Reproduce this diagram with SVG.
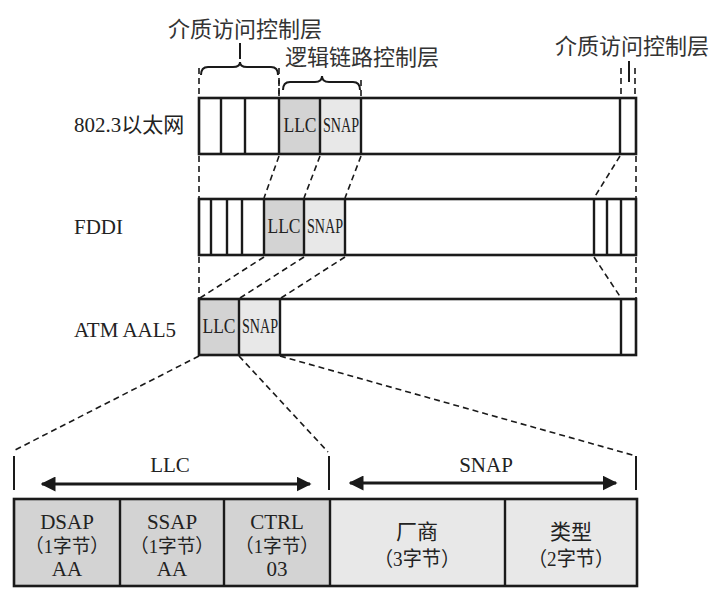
<svg xmlns="http://www.w3.org/2000/svg" width="724" height="601" viewBox="0 0 724 601">
<style>
.frame{fill:none;stroke:#1a1a1a;stroke-width:2.6}
.div{stroke:#1a1a1a;stroke-width:2.4}
.llc{fill:#d3d3d3}
.snap{fill:#e8e8e8}
.dash{fill:none;stroke:#1a1a1a;stroke-width:1.6;stroke-dasharray:6 4}
.brace{fill:none;stroke:#1a1a1a;stroke-width:2}
.t{font-family:"Liberation Serif","Noto Sans CJK SC",serif;fill:#222}
.cjk{font-family:"Liberation Serif","Noto Sans CJK SC",serif;fill:#333}
.arrow{stroke:#1a1a1a;stroke-width:3}
</style>
<defs>
<marker id="ah" viewBox="0 0 10 10" refX="9" refY="5" markerWidth="5" markerHeight="5" orient="auto-start-reverse" markerUnits="strokeWidth">
<path d="M0,0 L10,5 L0,10 Z" fill="#1a1a1a"/>
</marker>
</defs>
<rect width="724" height="601" fill="#fff"/>

<g id="label-mac-left">
<text class="cjk" x="245" y="37" font-size="22" text-anchor="middle">介质访问控制层</text>
<line class="brace" x1="240" y1="43" x2="240" y2="59"/>
<path class="brace" d="M201,75 Q201,67 208,67 L233,67 Q240,67 240,62 Q240,67 247,67 L271,67 Q278,67 278,75"/>
<line class="dash" x1="199" y1="68" x2="199" y2="97"/>
<line class="dash" x1="279" y1="68" x2="279" y2="97"/>
</g>
<g id="label-llc-layer">
<text class="cjk" x="362" y="65" font-size="22" text-anchor="middle">逻辑链路控制层</text>
<path class="brace" d="M283,90 Q283,82 290,82 L315,82 Q322,82 322,76 Q322,82 329,82 L353,82 Q360,82 360,90"/>
<line class="dash" x1="279" y1="80" x2="279" y2="97"/>
<line class="dash" x1="361" y1="80" x2="361" y2="97"/>
</g>
<g id="label-mac-right">
<text class="cjk" x="632" y="54" font-size="22" text-anchor="middle">介质访问控制层</text>
<line class="brace" x1="629" y1="61" x2="629" y2="82"/>
<line class="dash" x1="621" y1="68" x2="621" y2="97"/>
<line class="dash" x1="635" y1="68" x2="635" y2="97"/>
</g>

<g id="row-8023">
<text class="t" x="74" y="132" font-size="21">802.3以太网</text>
<rect class="llc" x="279" y="98" width="41" height="56"/>
<rect class="snap" x="320" y="98" width="41" height="56"/>
<rect class="frame" x="199" y="98" width="437" height="56"/>
<line class="div" x1="221" y1="98" x2="221" y2="154"/>
<line class="div" x1="245" y1="98" x2="245" y2="154"/>
<line class="div" x1="279" y1="98" x2="279" y2="154"/>
<line class="div" x1="320" y1="98" x2="320" y2="154"/>
<line class="div" x1="361" y1="98" x2="361" y2="154"/>
<line class="div" x1="620" y1="98" x2="620" y2="154"/>
<text class="t" x="300" y="132" font-size="22" text-anchor="middle" textLength="33" lengthAdjust="spacingAndGlyphs">LLC</text>
<text class="t" x="341" y="132" font-size="22" text-anchor="middle" textLength="36" lengthAdjust="spacingAndGlyphs">SNAP</text>
</g>

<g id="row-fddi">
<text class="t" x="74" y="234" font-size="21">FDDI</text>
<rect class="llc" x="264" y="199" width="40" height="56"/>
<rect class="snap" x="304" y="199" width="41" height="56"/>
<rect class="frame" x="199" y="199" width="437" height="56"/>
<line class="div" x1="211" y1="199" x2="211" y2="255"/>
<line class="div" x1="227" y1="199" x2="227" y2="255"/>
<line class="div" x1="242" y1="199" x2="242" y2="255"/>
<line class="div" x1="264" y1="199" x2="264" y2="255"/>
<line class="div" x1="304" y1="199" x2="304" y2="255"/>
<line class="div" x1="345" y1="199" x2="345" y2="255"/>
<line class="div" x1="594" y1="199" x2="594" y2="255"/>
<line class="div" x1="607" y1="199" x2="607" y2="255"/>
<line class="div" x1="621" y1="199" x2="621" y2="255"/>
<text class="t" x="284" y="233" font-size="22" text-anchor="middle" textLength="33" lengthAdjust="spacingAndGlyphs">LLC</text>
<text class="t" x="325" y="233" font-size="22" text-anchor="middle" textLength="36" lengthAdjust="spacingAndGlyphs">SNAP</text>
</g>

<g id="row-atm">
<text class="t" x="74" y="337" font-size="21">ATM AAL5</text>
<rect class="llc" x="199" y="299" width="40" height="56"/>
<rect class="snap" x="239" y="299" width="41" height="56"/>
<rect class="frame" x="199" y="299" width="437" height="56"/>
<line class="div" x1="239" y1="299" x2="239" y2="355"/>
<line class="div" x1="280" y1="299" x2="280" y2="355"/>
<line class="div" x1="621" y1="299" x2="621" y2="355"/>
<text class="t" x="219" y="333" font-size="22" text-anchor="middle" textLength="33" lengthAdjust="spacingAndGlyphs">LLC</text>
<text class="t" x="260" y="333" font-size="22" text-anchor="middle" textLength="36" lengthAdjust="spacingAndGlyphs">SNAP</text>
</g>

<g id="connectors">
<line class="dash" x1="199" y1="156" x2="199" y2="198"/>
<line class="dash" x1="279" y1="156" x2="264" y2="198"/>
<line class="dash" x1="320" y1="156" x2="304" y2="198"/>
<line class="dash" x1="361" y1="156" x2="345" y2="198"/>
<line class="dash" x1="620" y1="156" x2="594" y2="198"/>
<line class="dash" x1="636" y1="156" x2="636" y2="198"/>
<line class="dash" x1="199" y1="257" x2="199" y2="298"/>
<line class="dash" x1="264" y1="257" x2="200" y2="298"/>
<line class="dash" x1="304" y1="257" x2="240" y2="298"/>
<line class="dash" x1="345" y1="257" x2="281" y2="298"/>
<line class="dash" x1="594" y1="257" x2="621" y2="298"/>
<line class="dash" x1="636" y1="257" x2="636" y2="298"/>
<line class="dash" x1="199" y1="356" x2="15" y2="450"/>
<line class="dash" x1="239" y1="356" x2="328" y2="452"/>
<line class="dash" x1="280" y1="356" x2="636" y2="456"/>
</g>

<g id="llc-span">
<line class="brace" x1="14" y1="456" x2="14" y2="490"/>
<line class="brace" x1="329" y1="456" x2="329" y2="490"/>
<text class="t" x="170" y="472" font-size="21" text-anchor="middle">LLC</text>
<line class="arrow" x1="42" y1="484" x2="310" y2="484" marker-start="url(#ah)" marker-end="url(#ah)"/>
</g>
<g id="snap-span">
<line class="brace" x1="636" y1="456" x2="636" y2="490"/>
<text class="t" x="486" y="472" font-size="21" text-anchor="middle">SNAP</text>
<line class="arrow" x1="350" y1="483" x2="616" y2="483" marker-start="url(#ah)" marker-end="url(#ah)"/>
</g>

<g id="field-dsap">
<rect class="llc" x="14" y="499" width="106" height="87"/>
<text class="t" x="67" y="529" font-size="21" text-anchor="middle">DSAP</text>
<text class="t" x="67" y="553" font-size="19" text-anchor="middle" textLength="84" lengthAdjust="spacingAndGlyphs">（1字节）</text>
<text class="t" x="67" y="576" font-size="21" text-anchor="middle">AA</text>
</g>
<g id="field-ssap">
<rect class="llc" x="120" y="499" width="104" height="87"/>
<text class="t" x="172" y="529" font-size="21" text-anchor="middle">SSAP</text>
<text class="t" x="172" y="553" font-size="19" text-anchor="middle" textLength="84" lengthAdjust="spacingAndGlyphs">（1字节）</text>
<text class="t" x="172" y="576" font-size="21" text-anchor="middle">AA</text>
</g>
<g id="field-ctrl">
<rect class="llc" x="224" y="499" width="106" height="87"/>
<text class="t" x="277" y="529" font-size="21" text-anchor="middle">CTRL</text>
<text class="t" x="277" y="553" font-size="19" text-anchor="middle" textLength="84" lengthAdjust="spacingAndGlyphs">（1字节）</text>
<text class="t" x="277" y="576" font-size="21" text-anchor="middle">03</text>
</g>
<g id="field-vendor">
<rect class="snap" x="330" y="499" width="175" height="87"/>
<text class="t" x="417" y="539" font-size="21" text-anchor="middle">厂商</text>
<text class="t" x="417" y="566" font-size="20" text-anchor="middle" textLength="86" lengthAdjust="spacingAndGlyphs">（3字节）</text>
</g>
<g id="field-type">
<rect class="snap" x="505" y="499" width="132" height="87"/>
<text class="t" x="571" y="539" font-size="21" text-anchor="middle">类型</text>
<text class="t" x="571" y="566" font-size="20" text-anchor="middle" textLength="86" lengthAdjust="spacingAndGlyphs">（2字节）</text>
</g>
<g id="bottom-frame">
<rect class="frame" x="14" y="499" width="623" height="87"/>
<line class="div" x1="120" y1="499" x2="120" y2="586"/>
<line class="div" x1="224" y1="499" x2="224" y2="586"/>
<line class="div" x1="330" y1="499" x2="330" y2="586"/>
<line class="div" x1="505" y1="499" x2="505" y2="586"/>
</g>
</svg>
